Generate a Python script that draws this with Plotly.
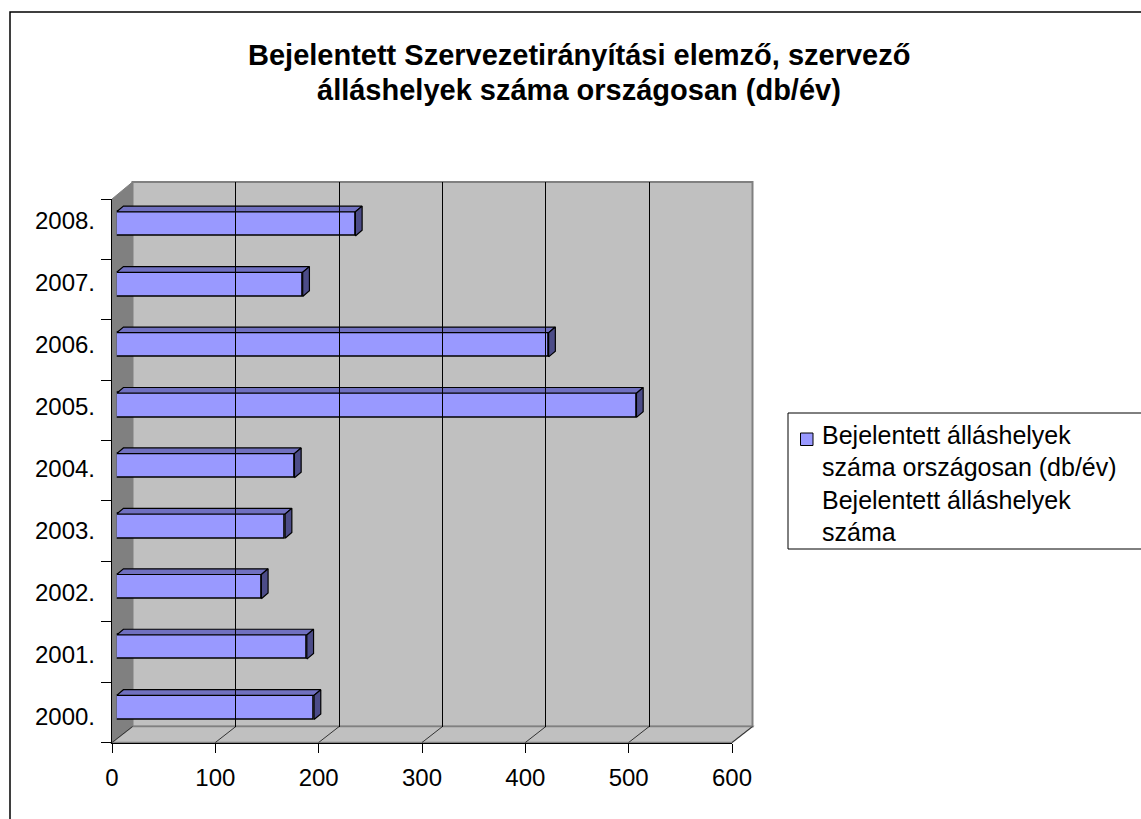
import plotly.graph_objects as go

# ---------------- data ----------------
years = ["2000.", "2001.", "2002.", "2003.", "2004.", "2005.", "2006.", "2007.", "2008."]
values = [191, 184, 140, 163, 172, 503, 418, 180, 231]
x_ticks = [0, 100, 200, 300, 400, 500, 600]
title_lines = ["Bejelentett Szervezetirányítási elemző, szervező",
               "álláshelyek száma országosan (db/év)"]
legend_lines = ["Bejelentett álláshelyek", "száma országosan (db/év)",
                "Bejelentett álláshelyek", "száma"]
series_name = " ".join(legend_lines)

# ---------------- geometry helpers (pixel -> paper) ----------------
W, H = 1141, 819
def px(x):
    return x / W
def py(y):
    return 1 - y / H

FONT = "Arial, 'Liberation Sans', sans-serif"
FRONT = "#9999FF"
TOP = "#7070C0"
SIDE = "#4C4C88"
WALL = "#C0C0C0"
SIDEWALL = "#808080"

idx = list(range(len(years)))
bw = 0.40
dx, dy = 6.5, 0.094

top_x, top_y, side_x, side_y = [], [], [], []
for i, v in zip(idx, values):
    t = i + bw / 2
    b = i - bw / 2
    top_x += [0, v, v + dx, dx, 0, None]
    top_y += [t, t, t + dy, t + dy, t, None]
    side_x += [v, v, v + dx, v + dx, v, None]
    side_y += [b, t, t + dy, b + dy, b, None]

fig = go.Figure()

fig.add_trace(go.Bar(x=values, y=idx, orientation="h", width=bw, name=series_name,
                     marker=dict(color=FRONT, line=dict(color="black", width=1.5)),
                     xaxis="x", yaxis="y", showlegend=False, hoverinfo="x"))
fig.add_trace(go.Scatter(x=top_x, y=top_y, fill="toself", fillcolor=TOP, mode="lines",
                         line=dict(color="black", width=1.2), xaxis="x", yaxis="y",
                         showlegend=False, hoverinfo="skip"))
fig.add_trace(go.Scatter(x=side_x, y=side_y, fill="toself", fillcolor=SIDE, mode="lines",
                         line=dict(color="black", width=1.2), xaxis="x", yaxis="y",
                         showlegend=False, hoverinfo="skip"))

fig.add_trace(go.Scatter(x=[0] * len(years), y=years, mode="markers", marker=dict(opacity=0),
                         xaxis="x2", yaxis="y2", showlegend=False, hoverinfo="skip"))
fig.add_trace(go.Scatter(x=[0, 600], y=[0, 1], mode="markers", marker=dict(opacity=0),
                         xaxis="x3", yaxis="y3", showlegend=False, hoverinfo="skip"))
fig.add_trace(go.Scatter(x=[0] * len(years), y=years, mode="markers", marker=dict(opacity=0),
                         xaxis="x2", yaxis="y4", showlegend=False, hoverinfo="skip"))

shapes = []
# outer chart border
shapes.append(dict(type="rect", xref="paper", yref="paper", x0=px(10), x1=px(1160),
                   y0=py(12), y1=py(840), line=dict(color="black", width=1.5), layer="below"))
# back wall
shapes.append(dict(type="rect", xref="paper", yref="paper", x0=px(132.5), x1=px(752.5),
                   y0=py(182), y1=py(726.5), fillcolor=WALL,
                   line=dict(color=SIDEWALL, width=2), layer="below"))
# side wall
shapes.append(dict(type="path", xref="paper", yref="paper",
                   path=f"M {px(112)} {py(199)} L {px(132.5)} {py(182)} L {px(132.5)} {py(726.5)} L {px(112)} {py(742.5)} Z",
                   fillcolor=SIDEWALL, line=dict(color=SIDEWALL, width=1), layer="below"))
# floor
shapes.append(dict(type="path", xref="paper", yref="paper",
                   path=f"M {px(112)} {py(742.5)} L {px(132.5)} {py(726.5)} L {px(752.5)} {py(726.5)} L {px(732)} {py(742.5)} Z",
                   fillcolor=WALL, line=dict(color=SIDEWALL, width=1.5), layer="below"))
# floor diagonals at the tick positions
for t in x_ticks:
    xf = 112 + (732 - 112) * t / 600
    xb = 132.5 + (752.5 - 132.5) * t / 600
    shapes.append(dict(type="line", xref="paper", yref="paper", x0=px(xf), y0=py(742.5),
                       x1=px(xb), y1=py(726.5), line=dict(color="#333333", width=1), layer="below"))

# legend box
shapes.append(dict(type="rect", xref="paper", yref="paper", x0=px(788), x1=px(1160),
                   y0=py(413), y1=py(549), fillcolor="white",
                   line=dict(color="black", width=1), layer="above"))
shapes.append(dict(type="rect", xref="paper", yref="paper", x0=px(800.5), x1=px(813),
                   y0=py(433), y1=py(445.5), fillcolor=FRONT,
                   line=dict(color="black", width=1), layer="above"))

annotations = []
for j, line in enumerate(title_lines):
    annotations.append(dict(text=f"<b>{line}</b>", xref="paper", yref="paper",
                            x=px(579), y=py(55.5 + 34 * j), xanchor="center", yanchor="middle",
                            showarrow=False, font=dict(family=FONT, size=29, color="black")))
for j, line in enumerate(legend_lines):
    annotations.append(dict(text=line, xref="paper", yref="paper",
                            x=px(820), y=py(434.5 + 32.5 * j), xanchor="left", yanchor="middle",
                            showarrow=False, font=dict(family=FONT, size=25, color="black")))

fig.update_layout(
    width=W, height=H, autosize=False,
    margin=dict(l=0, r=0, t=0, b=0, pad=0, autoexpand=False),
    paper_bgcolor="white", plot_bgcolor="rgba(0,0,0,0)",
    font=dict(family=FONT, color="black"),
    showlegend=False,
    bargap=0,
    shapes=shapes,
    annotations=annotations,
    xaxis=dict(domain=[px(116.7), px(736.7)], range=[0, 600], visible=False, anchor="y",
               fixedrange=True, automargin=False),
    yaxis=dict(domain=[py(737.7), py(193.7)], range=[-0.5, 8.5], visible=False, anchor="x",
               fixedrange=True, automargin=False),
    xaxis2=dict(domain=[px(112), px(732)], range=[0, 600], tickmode="array", tickvals=x_ticks,
                ticktext=[str(t) for t in x_ticks],
                ticks="outside", ticklen=9, tickcolor="black", tickwidth=1,
                showline=True, linecolor="black", linewidth=1, showgrid=False, zeroline=False,
                tickfont=dict(family=FONT, size=24, color="black"), anchor="y2",
                ticklabelstandoff=5, fixedrange=True, automargin=False),
    yaxis2=dict(domain=[py(742.5), py(199)], type="category", categoryorder="array",
                categoryarray=years, range=[-0.5, 8.5], tickson="boundaries",
                ticks="outside", ticklen=10, tickcolor="black", tickwidth=1,
                showticklabels=False, showline=True, linecolor="black", linewidth=1,
                showgrid=False, zeroline=False, anchor="x2", fixedrange=True, automargin=False),
    xaxis3=dict(domain=[px(132.5), px(752.5)], range=[0, 600], tickmode="array",
                tickvals=x_ticks[1:-1], showgrid=True, gridcolor="black", gridwidth=1,
                showticklabels=False, ticks="", zeroline=False, showline=False, anchor="y3",
                fixedrange=True, automargin=False),
    yaxis3=dict(domain=[py(726.5), py(182)], range=[0, 1], showgrid=False, zeroline=False,
                showticklabels=False, ticks="", showline=False, anchor="x3", fixedrange=True,
                automargin=False),
    yaxis4=dict(domain=[py(748.0), py(189.5)], type="category", categoryorder="array",
                categoryarray=years, range=[-0.5, 8.5], anchor="free", position=px(112),
                side="left", ticks="", showline=False, showgrid=False, zeroline=False,
                tickfont=dict(family=FONT, size=24, color="black"), ticklabelstandoff=17,
                fixedrange=True, automargin=False),
)

fig.write_html("out.html", config={"displayModeBar": False, "responsive": False},
               post_script="document.body.style.margin='0';document.body.style.overflow='hidden';")
